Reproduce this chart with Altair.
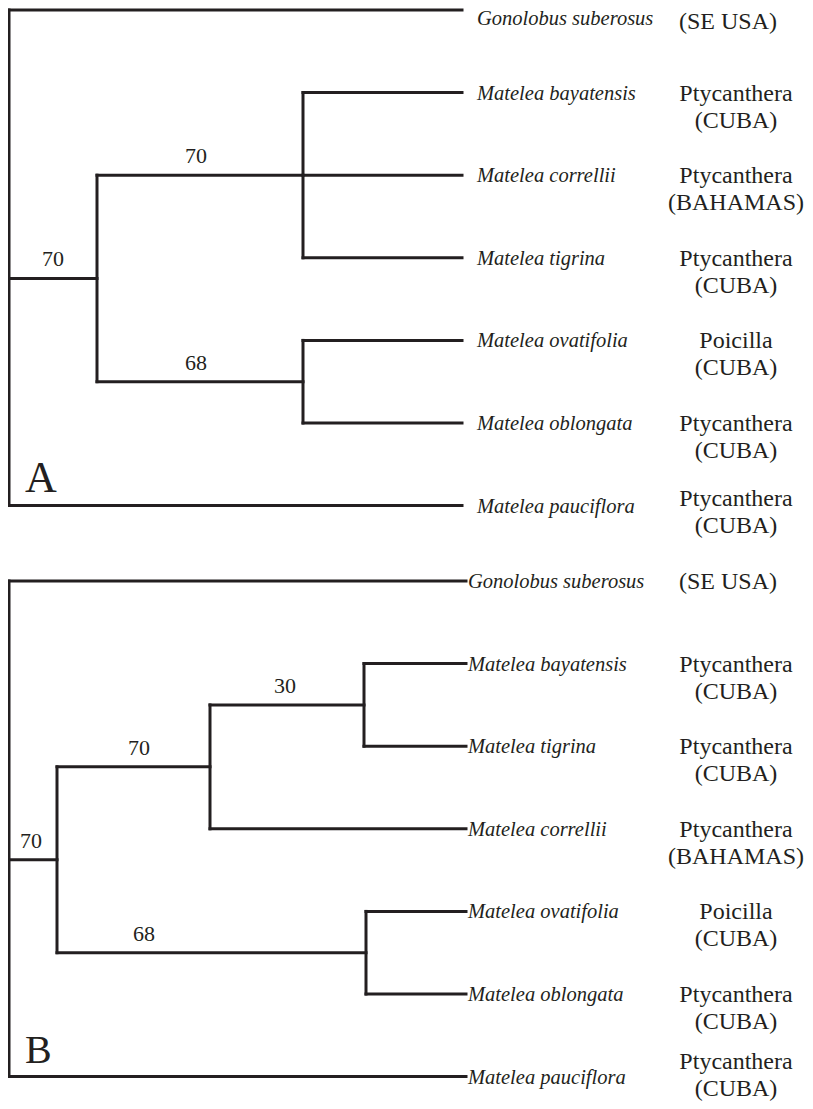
import altair as alt
import pandas as pd

# ---------------- data: tree A ----------------
A_taxa = ["Gonolobus suberosus", "Matelea bayatensis", "Matelea correllii",
          "Matelea tigrina", "Matelea ovatifolia", "Matelea oblongata",
          "Matelea pauciflora"]
A_leaf_parent = ["root", "n2", "n2", "n2", "n3", "n3", "root"]
A_region1 = ["(SE USA)", "Ptycanthera", "Ptycanthera", "Ptycanthera",
             "Poicilla", "Ptycanthera", "Ptycanthera"]
A_region2 = ["", "(CUBA)", "(BAHAMAS)", "(CUBA)", "(CUBA)", "(CUBA)", "(CUBA)"]
A_nodes = ["root", "n1", "n2", "n3"]
A_node_parent = [None, "root", "n1", "n1"]
A_node_depth = [0, 88, 294, 294]
A_support = ["", "70", "70", "68"]
A_support_at = [0, 44, 187, 187]
A_tip_depth = 453

# ---------------- data: tree B ----------------
B_taxa = ["Gonolobus suberosus", "Matelea bayatensis", "Matelea tigrina",
          "Matelea correllii", "Matelea ovatifolia", "Matelea oblongata",
          "Matelea pauciflora"]
B_leaf_parent = ["root", "n3a", "n3a", "n2", "n3b", "n3b", "root"]
B_region1 = ["(SE USA)", "Ptycanthera", "Ptycanthera", "Ptycanthera",
             "Poicilla", "Ptycanthera", "Ptycanthera"]
B_region2 = ["", "(CUBA)", "(CUBA)", "(BAHAMAS)", "(CUBA)", "(CUBA)", "(CUBA)"]
B_nodes = ["root", "n1", "n2", "n3a", "n3b"]
B_node_parent = [None, "root", "n1", "n2", "n1"]
B_node_depth = [0, 48, 201, 355, 357]
B_support = ["", "70", "70", "30", "68"]
B_support_at = [0, 22, 130, 276, 135]
B_tip_depth = 457

# ---------------- layout constants ----------------
ROW_PX = 82.6          # pixels per leaf row
TREE_B_OFFSET = 6.913  # rows from first leaf of A to first leaf of B
REGION_COL = 727       # centre of the region column (depth units)
W, H = 797, 1093
A_TEXT_NUDGE = [8, 0, 0, 0, 0, 0, -8]     # px, keeps edge labels on the page
A_REGION_NUDGE = [11, 0, 0, 0, 0, 0, -8]
B_TEXT_NUDGE = [0, 0, 0, 0, 0, 0, 0]
B_REGION_NUDGE = [0, 0, 0, 0, 0, 0, -16]
A_REGION_DX = [-8, 0, 0, 0, 0, 0, 0]
B_REGION_DX = [-8, 0, 0, 0, 0, 0, 0]


def layout(name, letter_size, taxa, leaf_parent, r1, r2, nodes, node_parent,
           node_depth, support, support_at, tip_depth, offset, label_gap,
           tnudge, rnudge, rdx):
    ys = {}
    children = {n: [] for n in nodes}
    items = []
    for i, (t, p) in enumerate(zip(taxa, leaf_parent)):
        key = "leaf%d" % i
        ys[key] = offset + i
        children[p].append(key)
        items.append((key, p, tip_depth))
    for n, p in zip(nodes, node_parent):
        if p is not None:
            children[p].append(n)

    def gety(n):
        if n in ys:
            return ys[n]
        cy = [gety(c) for c in children[n]]
        ys[n] = (min(cy) + max(cy)) / 2
        return ys[n]

    depth = dict(zip(nodes, node_depth))
    for n in nodes:
        gety(n)
    segs = []
    for key, p, d in items:
        segs.append(dict(x=depth[p], x2=d, y=ys[key], y2=ys[key]))
    for n, p in zip(nodes, node_parent):
        if p is not None:
            segs.append(dict(x=depth[p], x2=depth[n], y=ys[n], y2=ys[n]))
    for n in nodes:
        cy = [ys[c] for c in children[n]]
        segs.append(dict(x=depth[n], x2=depth[n], y=min(cy), y2=max(cy)))

    leaves = pd.DataFrame(dict(
        taxon=taxa, r1=r1, r2=r2,
        x=[tip_depth + label_gap] * len(taxa),
        rx=[REGION_COL + d for d in rdx],
        y=[offset + i for i in range(len(taxa))],
        tn=tnudge, rn=rnudge,
    ))
    leaves["ty"] = leaves["y"] + leaves["tn"].clip(lower=0) / ROW_PX
    leaves["ry"] = leaves["y"] + leaves["rn"] / ROW_PX
    sup = pd.DataFrame(dict(
        label=[s for s in support if s],
        x=[a for s, a in zip(support, support_at) if s],
        y=[ys[n] for s, n in zip(support, nodes) if s],
    ))
    letter = pd.DataFrame(dict(label=[name], x=[16], y=[offset + 5.835],
                               fs=[letter_size]))
    return pd.DataFrame(segs), leaves, sup, letter


sa, la, pa, ta = layout("A", 44, A_taxa, A_leaf_parent, A_region1, A_region2,
                        A_nodes, A_node_parent, A_node_depth, A_support,
                        A_support_at, A_tip_depth, 0.0, 15, A_TEXT_NUDGE,
                        A_REGION_NUDGE, A_REGION_DX)
sb, lb, pb, tb = layout("B", 40, B_taxa, B_leaf_parent, B_region1, B_region2,
                        B_nodes, B_node_parent, B_node_depth, B_support,
                        B_support_at, B_tip_depth, TREE_B_OFFSET, 2,
                        B_TEXT_NUDGE, B_REGION_NUDGE, B_REGION_DX)
segs = pd.concat([sa, sb], ignore_index=True)
leaves = pd.concat([la, lb], ignore_index=True)
sup = pd.concat([pa, pb], ignore_index=True)
letters = pd.concat([ta, tb], ignore_index=True)

xs = alt.Scale(domain=[-1, W - 1], nice=False, zero=False)
ys_ = alt.Scale(domain=[-2 / ROW_PX, (H - 2) / ROW_PX], nice=False, zero=False,
                reverse=True)
INK = "#231f20"
SERIF = "Liberation Serif"

rules = alt.Chart(segs).mark_rule(strokeWidth=3, color=INK, strokeCap="square").encode(
    x=alt.X("x:Q", scale=xs, axis=None),
    x2="x2:Q",
    y=alt.Y("y:Q", scale=ys_, axis=None),
    y2="y2:Q",
)

taxon = alt.Chart(leaves).mark_text(
    font=SERIF, fontStyle="italic", fontSize=20.5, align="left",
    baseline="alphabetic", dy=7, color=INK
).encode(x=alt.X("x:Q", scale=xs, axis=None),
         y=alt.Y("ty:Q", scale=ys_, axis=None), text="taxon:N")

reg1 = alt.Chart(leaves).mark_text(
    font=SERIF, fontSize=24, align="center", baseline="alphabetic", dy=8,
    color=INK
).encode(x=alt.X("rx:Q", scale=xs, axis=None),
         y=alt.Y("ry:Q", scale=ys_, axis=None), text="r1:N")

reg2 = alt.Chart(leaves).mark_text(
    font=SERIF, fontSize=24, align="center", baseline="alphabetic", dy=35,
    color=INK
).encode(x=alt.X("rx:Q", scale=xs, axis=None),
         y=alt.Y("ry:Q", scale=ys_, axis=None), text="r2:N")

supt = alt.Chart(sup).mark_text(
    font=SERIF, fontSize=22, align="center", baseline="alphabetic", dy=-12,
    color=INK
).encode(x=alt.X("x:Q", scale=xs, axis=None),
         y=alt.Y("y:Q", scale=ys_, axis=None), text="label:N")

lett = alt.Chart(letters).mark_text(
    font=SERIF, align="left", baseline="alphabetic", color=INK
).encode(x=alt.X("x:Q", scale=xs, axis=None),
         y=alt.Y("y:Q", scale=ys_, axis=None), text="label:N",
         size=alt.Size("fs:Q", scale=None, legend=None))

chart = alt.layer(rules, taxon, reg1, reg2, supt, lett).properties(
    width=W, height=H, autosize=alt.AutoSizeParams(type="none"), padding=0,
    background="white"
).configure_view(stroke=None)

chart.save("out.html", embed_options={"renderer": "svg", "actions": False})
